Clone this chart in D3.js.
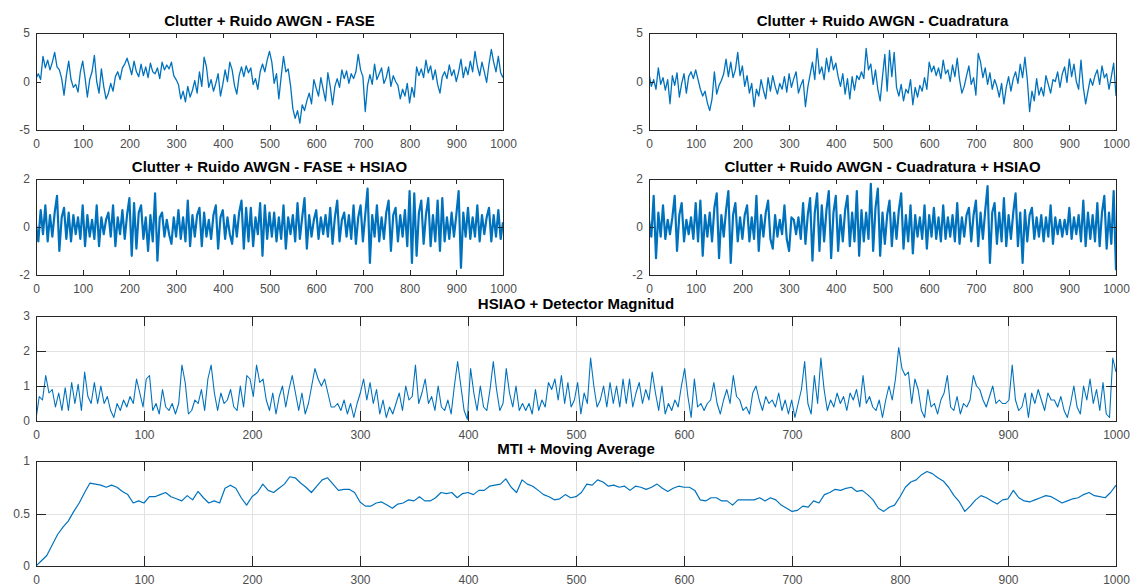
<!DOCTYPE html>
<html>
<head>
<meta charset="utf-8">
<script src="https://cdnjs.cloudflare.com/ajax/libs/d3/7.8.5/d3.min.js"></script>
<style>
  body { margin: 0; background: #fff; }
  svg { display: block; font-family: "Liberation Sans", Arial, sans-serif; }
  .title { font-weight: bold; font-size: 15px; fill: #000; text-anchor: middle; }
  .tick text { font-size: 12px; fill: #4d4d4d; font-family: "Liberation Sans", Arial, sans-serif; }
  .tick line { stroke: #262626; shape-rendering: crispEdges; }
  .domain { display: none; }
  .grid line { stroke: #e2e2e2; shape-rendering: crispEdges; }
</style>
</head>
<body>
<div id="chart"></div>
<script>
// Figure size
var svgWidth = 1130;
var svgHeight = 587;

// Tick labels
var xTicks = [0, 100, 200, 300, 400, 500, 600, 700, 800, 900, 1000];
var yTicksClutter = [-5, 0, 5];
var yTicksHsiao = [-2, 0, 2];
var yTicksMag = [0, 1, 2, 3];
var yTicksMti = [0, 0.5, 1];

// Clutter + Ruido AWGN - FASE (every 5 samples)
var faseData = [
  0.3, 0.8, 0.2, 2.6, 1.4, 2.2, 1.2, 2.0, 3.0, 1.5,
  1.2, 0.3, -1.4, 0.6, 2.1, 0.2, -0.6, -0.3, -1.1, 1.0,
  2.1, 0.4, -1.6, 0.2, 1.0, 2.7, 0.0, -1.2, 1.3, -0.5,
  -1.8, -1.2, -0.2, -1.0, 0.5, 1.0, 0.2, 1.4, 1.8, 2.4,
  1.6, 0.7, 2.1, 1.0, 0.5, 1.8, 0.6, 1.5, 0.4, 1.9,
  1.0, 0.8, 1.4, 0.3, 2.0, 1.2, 1.7, 1.3, 2.0, 0.6,
  0.2, -0.3, -1.8, -1.0, -2.1, -0.5, -1.6, -0.9, 0.1, -1.2,
  1.0, -0.5, 2.5, 1.5, -0.6, 0.2, -1.0, -0.2, 0.8, -1.5,
  -0.3, 1.2, 0.0, 2.0, 1.2, -0.4, -1.3, 0.6, 1.5, 0.5,
  1.6, 0.9, 1.4, -0.3, 0.3, -0.8, 1.0, 1.8, 1.0, 2.2,
  3.1, 2.0, -0.2, 0.8, -1.8, 0.5, 2.6, 1.0, 1.3, -0.4,
  -2.8, -3.8, -3.0, -4.3, -2.4, -3.0, -2.0, -1.2, -2.3, 0.2,
  -0.7, -1.5, 0.4, -0.8, -2.0, 0.9, -0.5, -2.4, -0.5, 0.3,
  -0.6, 1.2, 0.3, 1.1, -0.2, 0.8, 0.3, 1.0, 2.8, 1.2,
  0.5, -3.1, -0.4, 0.7, -0.3, 1.8, 0.2, 0.8, 1.4, -0.2,
  0.4, 1.5, -0.5, 0.6, 0.0, -0.4, -1.8, -0.8, -1.5, -0.2,
  -2.2, -0.6, -1.6, 1.5, 0.6, 1.3, 0.4, 2.2, 0.9, 1.6,
  0.2, 1.2, -0.3, -1.2, 0.5, 1.0, 0.3, 1.7, 0.6, 1.2,
  0.0, 1.0, 2.3, 0.4, 1.5, 0.7, 2.1, 1.0, 3.1, 1.6,
  0.6, 2.0, 1.0, -0.1, 1.8, 3.3, 2.0, 1.0, 2.6, 0.9,
  0.4
];

// Clutter + Ruido AWGN - Cuadratura (every 5 samples)
var cuadData = [
  0.8, -0.5, 0.2, -0.8, 1.4, -0.3, 0.4, -0.9, 0.2, -2.3,
  0.6, -0.4, 0.9, -1.6, -0.2, 0.8, -1.2, 0.5, 1.0, 0.3,
  1.2, 0.2, -0.8, -1.5, -1.0, -2.2, -3.0, -1.8, 1.0, -1.3,
  -0.4, 0.1, 0.8, 2.3, 0.5, 2.0, 0.4, 1.2, 3.0, 0.6,
  1.6, -0.5, 0.6, -1.2, -0.2, -2.6, -0.8, -1.5, 0.2, -0.9,
  -1.8, 0.4, -1.0, 0.6, -0.5, -1.3, -0.2, -0.8, 0.5, -1.1,
  0.8, -0.6, 0.3, 1.0, -1.2, -0.4, 0.2, -2.6, -0.6, 0.7,
  2.0, 0.2, 3.4, 0.8, 1.5, 0.2, 2.4, 1.0, 2.6, 1.2,
  1.9, 0.5, -0.5, 0.8, -1.3, 0.3, -1.8, 0.5, -0.9, 0.6,
  0.2, 1.0, 0.3, 3.4, 1.2, 1.8, -0.3, 1.2, -0.8, -2.0,
  0.5, 2.8, -1.0, 3.2, 0.5, 3.0, -0.6, -1.5, -0.3, -2.0,
  -0.8, -1.2, 0.2, -2.4, -0.6, -1.6, -0.4, -1.0, 0.4, -0.8,
  2.0, 1.0, 1.6, 0.6, 1.4, 0.3, 2.2, 0.8, 1.2, 0.0,
  1.7, 0.5, 2.4, 0.2, -1.2, -0.5, 0.6, 1.6, -0.3, 0.4,
  -1.4, 2.9, 2.0, 0.4, 1.4, -0.3, 0.9, -0.8, 0.2, -0.5,
  -1.6, -0.2, -2.3, -0.6, 0.5, -1.0, 0.3, 1.0, -0.2, 1.8,
  0.4, 2.5, 0.2, -3.1, -1.0, -2.0, 0.3, -1.4, -0.6, -1.5,
  0.6, -0.3, -1.2, 0.2, 0.0, 1.0, -0.6, 0.8, 1.5, -0.1,
  2.3, 0.5, 1.8, 0.0, -0.8, 2.2, -0.6, -2.3, -1.0, 0.3,
  -0.4, 0.6, 1.2, -0.3, 1.6, 0.4, 0.8, -0.8, 0.5, 1.9,
  -1.5
];

// Clutter + Ruido AWGN - FASE + HSIAO (every 5 samples)
var faseHsiao = [
  0.1, -0.6, 0.7, -0.3, 0.9, -0.6, 0.5, -0.4, 0.6, 1.3,
  -1.0, 0.4, 0.8, -0.5, 0.6, -0.6, 0.5, -0.3, 0.4, -0.5,
  0.9, -0.8, 0.5, -0.4, 0.3, -0.5, 0.9, -0.8, 0.4, -0.3,
  0.3, 0.6, -0.4, 0.9, -0.8, 0.4, -0.3, 0.7, -0.5, 0.5,
  1.2, -1.2, 1.0, -0.9, 0.6, 0.9, -0.5, 0.4, -1.0, 0.5,
  -0.6, 1.4, -1.4, 0.4, 0.6, -0.4, 0.3, -0.3, -0.7, 0.4,
  -0.4, 0.7, -0.5, 0.4, -0.6, 1.1, -0.8, 0.5, -0.4, 0.5,
  0.8, -0.8, 0.6, -0.4, 0.3, -0.5, 0.5, 0.9, -0.9, 0.4,
  0.7, -0.5, 0.4, -0.3, -0.7, 0.5, -0.4, 0.6, 1.1, -0.9,
  0.8, -0.6, 0.8, -0.8, 0.4, -0.3, 1.0, -1.2, 0.9, -0.5,
  0.6, -0.4, 0.6, -0.6, 0.4, -0.5, 0.9, -0.9, 0.4, -0.3,
  0.5, -0.6, 1.0, -0.5, 0.4, 1.2, -0.9, 0.5, -0.4, 0.3,
  0.7, -0.5, 0.4, -0.3, 0.5, -0.4, 0.8, -0.7, 0.4, 1.1,
  -0.6, 0.3, 0.6, -0.4, 0.5, -0.5, 0.9, -0.7, 0.4, 0.9,
  -0.6, 0.5, 1.6, -1.5, 0.5, -0.4, 0.9, -0.6, 0.4, -0.5,
  0.6, 1.1, -1.0, 0.5, 0.8, -0.6, 0.5, -0.4, 0.7, -0.8,
  1.5, -1.5, 1.4, -1.2, 0.6, 1.1, -0.7, 0.5, 1.2, -0.8,
  0.5, -0.6, 1.1, -1.0, 1.2, -0.6, 0.4, -0.5, 0.6, -0.4,
  0.5, 1.5, -1.7, 0.6, -0.4, 0.8, -0.5, 0.4, -0.4, 0.9,
  -0.6, 0.5, -0.3, 0.4, 0.8, -0.6, 0.5, -0.4, 0.7, -0.5,
  0.2
];

// Clutter + Ruido AWGN - Cuadratura + HSIAO (every 5 samples)
var cuadHsiao = [
  0.3, -0.4, 1.3, -1.3, 0.6, -0.4, 0.9, -0.5, 0.3, -0.3,
  0.4, 1.3, -1.0, 0.5, 1.0, -0.6, 0.3, -0.3, 0.4, -0.5,
  1.0, -0.6, 1.1, -1.2, 0.5, -0.4, 0.6, -0.6, 0.8, 1.4,
  -1.3, 0.5, -0.4, 0.7, 1.5, -1.5, 0.5, 1.0, -0.6, 0.4,
  -0.5, 0.5, 0.9, -0.6, 0.4, -0.5, 1.3, -1.0, 0.5, -0.4,
  0.6, 1.1, -0.5, -0.9, 0.5, -0.4, 0.3, -0.3, 0.9, -0.5,
  -1.0, 0.4, 0.3, -0.3, 0.4, -0.5, 1.0, -0.7, 0.5, 1.2,
  -1.4, 0.6, 1.4, -1.0, 0.9, -0.6, 0.7, 1.5, -1.3, 0.6,
  1.3, -1.0, 0.5, -0.6, 0.7, 1.3, -0.8, 0.6, -0.6, 1.5,
  -1.2, 0.7, -0.6, 0.6, -0.5, 1.8, -1.0, 0.8, 1.6, -1.2,
  0.6, -0.7, 0.5, 1.1, -0.8, 0.6, -0.5, 0.7, 1.4, -0.9,
  0.5, -0.6, 0.9, -1.1, 0.5, -0.4, 0.4, -0.5, 0.9, -0.9,
  0.5, -0.4, 0.8, -0.5, 0.4, -0.6, 0.9, -0.5, 0.4, -0.4,
  0.5, -0.6, 1.0, -0.7, 0.4, -0.4, 0.5, 0.8, -0.6, 0.5,
  1.1, -0.8, 0.6, -0.5, 0.7, 1.7, -1.5, 0.6, 1.0, -0.7,
  0.6, -0.6, 1.2, -0.8, 0.5, -0.5, 0.6, 1.4, -0.8, 0.6,
  -1.5, 0.7, -0.6, 0.5, 0.8, -0.5, 0.4, -0.4, 0.5, -0.6,
  0.4, -0.4, 0.9, -0.7, 0.4, -0.3, 0.3, -0.4, 0.3, -0.3,
  0.8, -0.5, 0.4, -0.3, 0.5, -0.6, 1.1, -0.8, 0.6, -0.5,
  0.5, -0.6, 1.0, -0.8, 0.6, 1.3, -0.9, 0.6, -0.7, 1.5,
  -1.8
];

// HSIAO + Detector Magnitud (every 3 samples)
var magData = [
  0.05, 0.7, 0.6, 1.3, 0.8, 0.9, 0.4, 0.8, 0.3, 0.95,
  0.3, 1.1, 0.5, 1.05, 0.3, 1.4, 0.7, 0.5, 1.1, 0.5,
  1.0, 0.5, 0.7, 0.3, 0.1, 0.5, 0.3, 0.6, 0.4, 0.7,
  0.5, 1.2, 0.8, 0.4, 1.2, 1.3, 0.3, 0.5, 0.2, 0.9,
  0.4, 0.3, 0.5, 0.2, 0.5, 1.6, 1.1, 0.2, 0.3, 0.6,
  0.5, 0.9, 0.3, 1.2, 1.6, 0.8, 0.3, 0.8, 0.5, 0.6,
  0.9, 0.4, 0.3, 1.0, 0.4, 1.3, 1.2, 0.7, 1.6, 1.1,
  1.2, 0.6, 0.3, 0.8, 0.2, 0.7, 1.0, 0.4, 0.9, 1.3,
  0.8, 0.3, 0.8, 0.2, 0.5, 1.0, 1.5, 1.2, 1.0, 1.2,
  0.8, 0.4, 0.4, 0.5, 0.3, 0.6, 0.2, 0.5, 0.1, 0.5,
  0.8, 1.2, 0.6, 1.1, 0.5, 0.9, 0.2, 0.6, 0.1, 0.4,
  0.2, 0.5, 0.8, 0.3, 1.0, 0.6, 0.7, 1.6, 0.5, 0.8,
  1.2, 0.5, 0.7, 0.3, 1.0, 0.4, 0.3, 0.6, 0.2, 1.0,
  1.7, 1.0, 0.3, 0.05, 1.5, 0.8, 0.3, 1.0, 0.4, 0.3,
  0.9, 1.7, 0.9, 0.3, 0.5, 1.5, 0.8, 0.4, 1.0, 0.3,
  0.5, 0.3, 0.5, 0.2, 0.9, 0.3, 0.6, 0.4, 1.1, 0.9,
  1.2, 0.6, 1.3, 0.5, 1.1, 0.4, 0.6, 1.1, 0.2, 0.8,
  0.5, 1.8, 1.0, 0.4, 0.6, 1.0, 0.4, 1.1, 0.5, 1.0,
  0.4, 1.2, 0.5, 1.2, 0.4, 0.8, 1.1, 0.5, 0.9, 0.6,
  1.4, 0.8, 0.3, 1.0, 0.2, 0.5, 0.3, 0.6, 0.4, 1.0,
  1.5, 0.7, 0.1, 1.2, 0.4, 0.5, 0.3, 0.5, 0.6, 1.1,
  0.5, 0.2, 0.6, 0.9, 0.5, 1.3, 0.7, 0.6, 0.3, 0.4,
  0.2, 0.8, 1.0, 0.6, 0.3, 0.7, 0.5, 0.6, 0.4, 0.8,
  0.3, 0.6, 0.2, 0.6, 0.1, 0.5, 0.9, 1.7, 0.5, 0.2,
  1.3, 0.5, 1.8, 0.9, 0.3, 0.6, 0.4, 0.8, 0.5, 0.7,
  0.3, 0.8, 0.6, 0.9, 0.4, 1.3, 0.5, 0.7, 0.4, 0.3,
  0.6, 0.1, 0.6, 1.0, 0.6, 1.2, 2.1, 1.5, 1.3, 1.4,
  0.5, 1.2, 0.9, 0.3, 0.1, 0.9, 0.4, 0.5, 0.2, 0.6,
  0.8, 1.3, 0.4, 0.3, 0.7, 0.2, 0.5, 0.4, 0.6, 1.3,
  1.0, 0.9, 0.6, 0.4, 0.7, 1.0, 0.5, 0.6, 0.5, 0.5,
  0.6, 1.6, 0.6, 0.3, 0.4, 0.8, 0.1, 0.8, 0.5, 0.9,
  0.6, 0.3, 0.8, 0.6, 0.6, 0.4, 0.7, 0.3, 0.1, 0.5,
  1.0, 0.4, 0.2, 1.0, 0.6, 1.2, 0.5, 0.9, 0.3, 1.1,
  0.2, 0.1, 1.8, 1.4
];

// MTI + Moving Average (every 5 samples)
var mtiData = [
  0.0, 0.05, 0.1, 0.2, 0.3, 0.37, 0.43, 0.52, 0.6, 0.7,
  0.79, 0.78, 0.77, 0.75, 0.77, 0.75, 0.71, 0.68, 0.6, 0.62,
  0.6, 0.66, 0.66, 0.68, 0.7, 0.66, 0.64, 0.62, 0.67, 0.63,
  0.71, 0.65, 0.6, 0.62, 0.6, 0.74, 0.77, 0.74, 0.65, 0.58,
  0.66, 0.7, 0.78, 0.72, 0.7, 0.74, 0.78, 0.85, 0.84, 0.79,
  0.75, 0.7, 0.76, 0.82, 0.84, 0.78, 0.72, 0.73, 0.73, 0.7,
  0.61, 0.57, 0.57, 0.6, 0.61, 0.58, 0.55, 0.59, 0.6, 0.63,
  0.62, 0.66, 0.62, 0.62, 0.65, 0.7, 0.69, 0.7, 0.65, 0.69,
  0.7, 0.68, 0.72, 0.72, 0.76, 0.77, 0.78, 0.83, 0.75, 0.7,
  0.82, 0.78, 0.76, 0.72, 0.68, 0.66, 0.63, 0.64, 0.68, 0.65,
  0.66, 0.7, 0.78, 0.77, 0.82, 0.8, 0.76, 0.77, 0.75, 0.76,
  0.72, 0.76, 0.75, 0.73, 0.75, 0.78, 0.74, 0.71, 0.74, 0.76,
  0.75, 0.75, 0.72, 0.63, 0.62, 0.65, 0.65, 0.62, 0.62, 0.58,
  0.63, 0.63, 0.63, 0.63, 0.65, 0.62, 0.65, 0.63, 0.58, 0.55,
  0.52, 0.53, 0.57, 0.56, 0.62, 0.6, 0.68, 0.7, 0.73, 0.72,
  0.74, 0.75, 0.71, 0.72, 0.68, 0.63, 0.55, 0.52, 0.56, 0.58,
  0.66, 0.75, 0.8, 0.82, 0.87, 0.9, 0.88, 0.84, 0.81, 0.75,
  0.67, 0.61, 0.52, 0.57, 0.63, 0.67, 0.65, 0.62, 0.59, 0.63,
  0.64, 0.72, 0.65, 0.62, 0.61, 0.63, 0.65, 0.67, 0.66, 0.63,
  0.6, 0.62, 0.64, 0.65, 0.68, 0.7, 0.67, 0.66, 0.65, 0.7,
  0.77
];

// Subplot layout (pixel boxes of each axes)
var panels = [
  { title: "Clutter + Ruido AWGN - FASE", values: faseData, yTicks: yTicksClutter, x0: 36, x1: 503, y0: 33, y1: 130, tick: 5, grid: false, lw: 1.3 },
  { title: "Clutter + Ruido AWGN - Cuadratura", values: cuadData, yTicks: yTicksClutter, x0: 649, x1: 1116, y0: 33, y1: 130, tick: 5, grid: false, lw: 1.3 },
  { title: "Clutter + Ruido AWGN - FASE + HSIAO", values: faseHsiao, yTicks: yTicksHsiao, x0: 36, x1: 503, y0: 179, y1: 275, tick: 5, grid: false, lw: 2.2 },
  { title: "Clutter + Ruido AWGN - Cuadratura + HSIAO", values: cuadHsiao, yTicks: yTicksHsiao, x0: 649, x1: 1116, y0: 179, y1: 275, tick: 5, grid: false, lw: 2.2 },
  { title: "HSIAO + Detector Magnitud", values: magData, yTicks: yTicksMag, x0: 36, x1: 1116, y0: 316, y1: 421, tick: 10, grid: true, lw: 1.1 },
  { title: "MTI + Moving Average", values: mtiData, yTicks: yTicksMti, x0: 36, x1: 1116, y0: 461, y1: 566, tick: 10, grid: true, lw: 1.2 }
];

var svg = d3.select("#chart")
  .append("svg")
  .attr("width", svgWidth)
  .attr("height", svgHeight);

panels.forEach(drawPanel);

function drawPanel(p) {
  var w = p.x1 - p.x0;
  var h = p.y1 - p.y0;
  var yDomain = d3.extent(p.yTicks);

  var g = svg.append("g")
    .attr("transform", `translate(${p.x0}, ${p.y0})`);

  var xScale = d3.scaleLinear().domain([0, 1000]).range([0, w]);
  var yScale = d3.scaleLinear().domain(yDomain).range([h, 0]);

  // grid lines (only on the two wide plots)
  if (p.grid) {
    g.append("g")
      .attr("class", "grid")
      .attr("transform", `translate(0, ${h})`)
      .call(d3.axisBottom(xScale).tickValues(xTicks.slice(1, -1)).tickSize(-h).tickFormat(""));
    g.append("g")
      .attr("class", "grid")
      .call(d3.axisLeft(yScale).tickValues(p.yTicks.slice(1, -1)).tickSize(-w).tickFormat(""));
  }

  // the signal, clipped to the axes box
  var clipId = "clip" + p.x0 + "_" + p.y0;
  g.append("clipPath").attr("id", clipId)
    .append("rect").attr("width", w).attr("height", h);

  var step = 1000 / (p.values.length - 1);
  var line = d3.line()
    .x((d, i) => xScale(i * step))
    .y(d => yScale(d));

  g.append("path")
    .datum(p.values)
    .attr("clip-path", `url(#${clipId})`)
    .attr("fill", "none")
    .attr("stroke", "#0072BD")
    .attr("stroke-width", p.lw)
    .attr("stroke-linejoin", "round")
    .attr("d", line);

  // axes with inward ticks on all four sides
  g.append("g")
    .attr("transform", `translate(0, ${h})`)
    .call(d3.axisBottom(xScale).tickValues(xTicks).tickSizeInner(-p.tick).tickSizeOuter(0).tickPadding(9).tickFormat(d => d));

  g.append("g")
    .call(d3.axisTop(xScale).tickValues(xTicks).tickSizeInner(-p.tick).tickSizeOuter(0).tickFormat(""));

  g.append("g")
    .call(d3.axisLeft(yScale).tickValues(p.yTicks).tickSizeInner(-p.tick).tickSizeOuter(0).tickPadding(6).tickFormat(d => d));

  g.append("g")
    .attr("transform", `translate(${w}, 0)`)
    .call(d3.axisRight(yScale).tickValues(p.yTicks).tickSizeInner(-p.tick).tickSizeOuter(0).tickFormat(""));

  // axes box
  g.append("rect")
    .attr("x", 0.5)
    .attr("y", 0.5)
    .attr("width", w)
    .attr("height", h)
    .attr("fill", "none")
    .attr("stroke", "#262626")
    .attr("stroke-width", 1)
    .style("shape-rendering", "crispEdges");

  // title
  g.append("text")
    .attr("class", "title")
    .attr("x", w / 2)
    .attr("y", -7)
    .text(p.title);
}
</script>
</body>
</html>
